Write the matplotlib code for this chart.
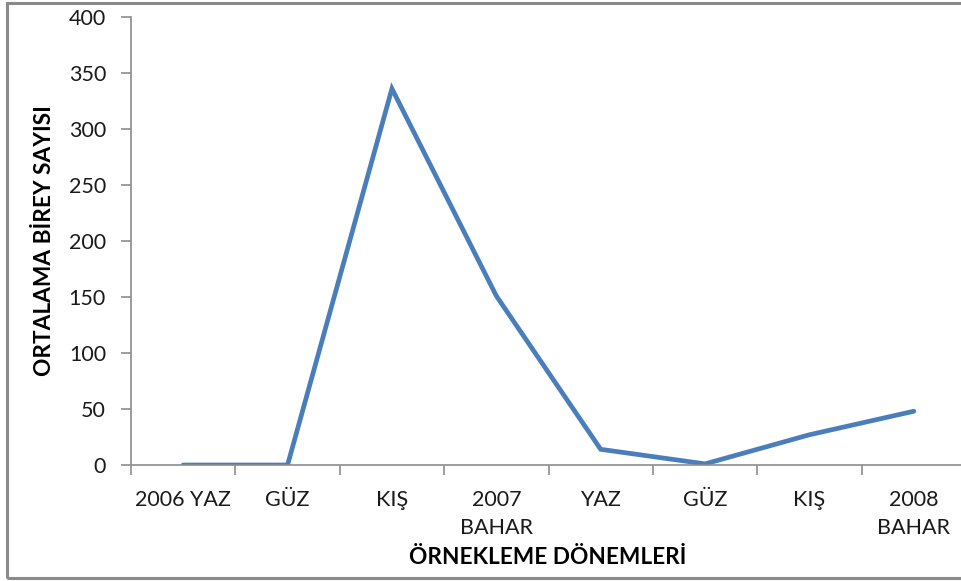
import matplotlib
matplotlib.use("Agg")
import matplotlib.pyplot as plt
from matplotlib.patches import Rectangle
from matplotlib.ticker import FixedLocator, NullFormatter

categories = ["2006 YAZ", "GÜZ", "KIŞ", "2007\nBAHAR", "YAZ", "GÜZ", "KIŞ", "2008\nBAHAR"]
values = [0, 0, 336, 151, 14, 1, 27, 48]
y_ticks = [0, 50, 100, 150, 200, 250, 300, 350, 400]
x_title = "ÖRNEKLEME DÖNEMLERİ"
y_title = "ORTALAMA BİREY SAYISI"

plt.rcParams['font.family'] = ['Lato', 'DejaVu Sans']

W, H = 961, 581
fig = plt.figure(figsize=(W / 100, H / 100), dpi=100)
ax = fig.add_axes([131 / W, 1 - 465 / H, 835 / W, 448 / H])

x = list(range(len(categories)))
ax.plot(x, values, color="#4a7ebb", linewidth=3.4, solid_capstyle="round", solid_joinstyle="miter")

ax.set_xlim(-0.5, len(categories) - 0.5)
ax.set_ylim(0, 400)
ax.set_yticks(y_ticks)
ax.set_xticks(x)
ax.set_xticklabels(categories, linespacing=1.5)
ax.xaxis.set_minor_locator(FixedLocator([i - 0.5 for i in range(len(categories) + 1)]))
ax.xaxis.set_minor_formatter(NullFormatter())

spine_c = "#8c8c8c"
for s in ["top", "right"]:
    ax.spines[s].set_visible(False)
for s in ["left", "bottom"]:
    ax.spines[s].set_color(spine_c)
    ax.spines[s].set_linewidth(1.2)

ax.tick_params(axis="x", which="major", length=0, pad=18, labelsize=15.5, labelcolor="#1a1a1a")
ax.tick_params(axis="x", which="minor", length=7, width=1.2, color=spine_c, direction="out")
ax.tick_params(axis="y", which="major", length=7, width=1.2, color=spine_c, direction="out",
               pad=11, labelsize=15.5, labelcolor="#1a1a1a")

fig.text(548 / W, 1 - 557 / H, x_title, ha="center", va="center", fontsize=16.3, fontweight="bold", color="#000000")
fig.text(45 / W, 1 - 241 / H, y_title, ha="center", va="center", rotation=90, fontsize=16.3,
         fontweight="bold", color="#000000")

fig.patches.append(Rectangle((7 / W, 3 / H), 1.0, 1 - 6 / H, transform=fig.transFigure,
                             fill=False, edgecolor="#8a8a8a", linewidth=2.2))

fig.savefig("out.png", dpi=100)
